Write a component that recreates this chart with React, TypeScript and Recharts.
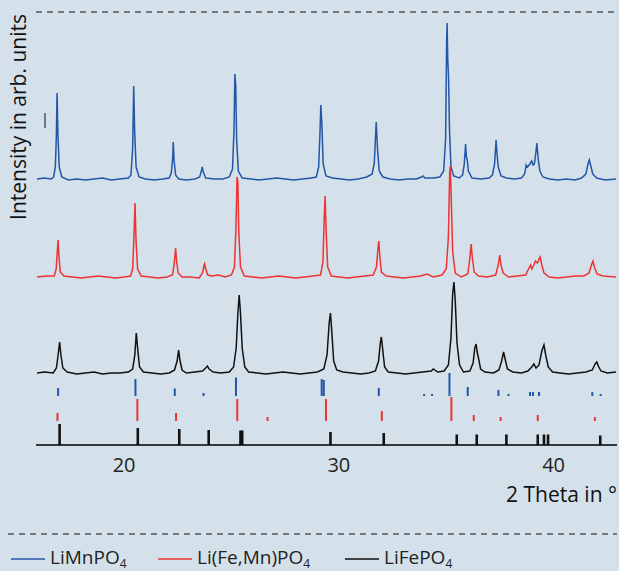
import React from 'react';
import { ComposedChart, Line, XAxis, YAxis, ReferenceLine } from 'recharts';

// measured patterns: [2 theta, intensity] (arb. units, each relative to its own baseline)
const mnPattern: [number, number][] = [
  [15.95, 0], [16.3, 1], [16.6, 0], [16.72, 2], [16.8, 12], [16.85, 45], [16.88, 86], [16.92, 45], [16.98, 12], [17.1, 2],
  [17.4, -1], [17.8, 0], [18.2, -1], [18.6, 0], [19.0, 1], [19.4, -1], [19.8, 0], [20.2, 1], [20.32, 4], [20.4, 30],
  [20.45, 93], [20.49, 50], [20.56, 12], [20.7, 2], [21.0, 0], [21.4, -1], [21.8, 0], [22.1, 1], [22.2, 6], [22.26, 20],
  [22.29, 37], [22.33, 18], [22.4, 4], [22.55, 0], [22.9, -1], [23.3, 0], [23.52, 2], [23.6, 8], [23.64, 12], [23.69, 7],
  [23.8, 1], [24.2, 0], [24.6, 0], [24.9, 2], [25.05, 10], [25.12, 50], [25.16, 105], [25.2, 93], [25.24, 40], [25.32, 8],
  [25.5, 1], [25.9, 0], [26.3, -1], [26.7, 0], [27.1, 1], [27.5, 0], [27.9, -1], [28.3, 0], [28.7, 1], [28.95, 2],
  [29.06, 12], [29.12, 45], [29.16, 74], [29.21, 55], [29.27, 15], [29.4, 3], [29.7, 1], [30.1, 0], [30.5, -1], [30.9, 0],
  [31.3, 2], [31.55, 5], [31.65, 16], [31.74, 57], [31.8, 30], [31.88, 8], [32.05, 2], [32.4, 0], [32.8, -1], [33.2, 0],
  [33.6, 0], [33.85, 2], [33.92, 3], [34.0, 1], [34.4, 1], [34.7, 2], [34.88, 8], [34.97, 40], [35.02, 140], [35.04, 156],
  [35.07, 120], [35.11, 100], [35.15, 50], [35.22, 12], [35.35, 3], [35.6, 1], [35.76, 4], [35.84, 15], [35.9, 35], [35.94, 22],
  [35.98, 19], [36.03, 8], [36.2, 1], [36.6, 0], [37.0, 1], [37.15, 4], [37.25, 15], [37.32, 39], [37.37, 24], [37.42, 12],
  [37.55, 3], [37.8, 1], [38.2, 0], [38.5, 1], [38.65, 5], [38.72, 14], [38.78, 12], [38.86, 14], [38.98, 18], [39.04, 14],
  [39.1, 15], [39.17, 26], [39.22, 36], [39.28, 20], [39.36, 8], [39.5, 2], [39.8, 0], [40.2, -1], [40.6, 0], [41.0, -1],
  [41.3, 1], [41.5, 5], [41.6, 15], [41.66, 19], [41.72, 14], [41.82, 5], [42.0, 1], [42.4, -1], [42.9, 0],
];

const mixPattern: [number, number][] = [
  [15.95, 0], [16.4, 1], [16.75, 1], [16.84, 8], [16.89, 25], [16.93, 37], [16.97, 20], [17.03, 5], [17.2, 1], [17.6, 0],
  [18.0, -1], [18.4, 0], [18.8, 1], [19.2, 0], [19.6, -1], [20.0, 0], [20.3, 1], [20.4, 8], [20.46, 40], [20.51, 74],
  [20.56, 35], [20.63, 8], [20.8, 1], [21.2, 0], [21.6, -1], [22.0, 0], [22.25, 2], [22.33, 12], [22.4, 29], [22.45, 15],
  [22.52, 4], [22.7, 0], [23.1, 0], [23.5, -1], [23.65, 4], [23.72, 11], [23.75, 13], [23.8, 8], [23.9, 2], [24.1, 1],
  [24.4, 2], [24.7, 0], [25.0, 2], [25.14, 10], [25.21, 50], [25.26, 100], [25.3, 95], [25.34, 45], [25.42, 10], [25.6, 1],
  [26.0, 0], [26.4, -1], [26.8, 0], [27.2, 1], [27.6, 0], [28.0, -1], [28.4, 0], [28.8, 1], [29.15, 2], [29.26, 15],
  [29.32, 60], [29.36, 81], [29.41, 45], [29.48, 10], [29.65, 1], [30.0, 0], [30.4, -1], [30.8, 0], [31.2, 1], [31.6, 2],
  [31.75, 10], [31.82, 28], [31.86, 36], [31.91, 20], [31.98, 5], [32.2, 1], [32.6, 0], [33.0, -1], [33.4, 0], [33.8, 1],
  [34.1, 3], [34.4, 0], [34.8, 2], [35.0, 8], [35.1, 40], [35.16, 105], [35.19, 111], [35.23, 80], [35.3, 25], [35.42, 4],
  [35.7, 0], [36.0, 3], [36.08, 15], [36.16, 33], [36.21, 20], [36.3, 5], [36.5, 1], [36.9, 0], [37.3, 2], [37.42, 12],
  [37.49, 22], [37.55, 12], [37.65, 4], [37.9, 0], [38.3, 1], [38.7, 2], [38.85, 9], [38.93, 12], [38.98, 8], [39.08, 12],
  [39.15, 16], [39.25, 14], [39.32, 18], [39.37, 20], [39.45, 12], [39.55, 4], [39.8, 0], [40.2, -1], [40.6, 0], [41.0, 1],
  [41.4, 1], [41.65, 4], [41.76, 12], [41.83, 16], [41.9, 10], [42.02, 3], [42.3, 1], [42.9, 0],
];

const fePattern: [number, number][] = [
  [15.95, 0], [16.3, 1], [16.7, 0], [16.85, 5], [16.93, 18], [17.0, 31], [17.06, 18], [17.15, 5], [17.35, 1], [17.8, -1],
  [18.2, 0], [18.6, 1], [19.0, -1], [19.4, 0], [19.8, 0], [20.2, 1], [20.4, 4], [20.5, 18], [20.57, 40], [20.63, 25],
  [20.72, 6], [20.9, 1], [21.3, 0], [21.7, -1], [22.1, 0], [22.35, 3], [22.47, 12], [22.54, 23], [22.6, 13], [22.7, 3],
  [22.9, 0], [23.3, 1], [23.65, 2], [23.8, 5], [23.88, 7], [23.96, 4], [24.15, 1], [24.5, 0], [24.9, 1], [25.1, 6],
  [25.22, 25], [25.3, 60], [25.36, 78], [25.42, 60], [25.5, 25], [25.62, 6], [25.8, 1], [26.2, 0], [26.6, -1], [27.0, 0],
  [27.4, 1], [27.8, 0], [28.2, -1], [28.6, 0], [29.0, 1], [29.3, 4], [29.45, 18], [29.55, 50], [29.61, 60], [29.67, 42],
  [29.76, 12], [29.9, 3], [30.2, 1], [30.6, 0], [31.0, -1], [31.4, 0], [31.7, 2], [31.85, 12], [31.93, 30], [31.98, 36],
  [32.04, 24], [32.13, 6], [32.3, 1], [32.7, 0], [33.1, -1], [33.5, 0], [33.9, 1], [34.3, 2], [34.4, 4], [34.6, 1],
  [34.9, 2], [35.1, 8], [35.22, 35], [35.3, 80], [35.36, 91], [35.42, 72], [35.5, 30], [35.62, 8], [35.8, 1], [36.1, 2],
  [36.25, 10], [36.33, 25], [36.39, 29], [36.44, 21], [36.5, 15], [36.6, 4], [36.8, 1], [37.2, 0], [37.45, 3], [37.58, 12],
  [37.67, 21], [37.74, 14], [37.85, 4], [38.1, 1], [38.5, 0], [38.8, 2], [38.98, 6], [39.08, 9], [39.18, 5], [39.32, 8],
  [39.45, 22], [39.55, 28], [39.63, 18], [39.75, 6], [39.95, 1], [40.3, 0], [40.7, -1], [41.1, 0], [41.5, 1], [41.8, 3],
  [41.93, 9], [42.01, 11], [42.08, 7], [42.2, 2], [42.5, 0], [42.9, 1],
];

// reference reflections: [2 theta, relative height]
const mnRefs: [number, number][] = [
  [16.93, 8], [20.53, 17], [22.36, 7.5], [23.7, 3], [25.21, 18.5], [29.2, 17], [29.3, 16], [31.86, 8],
  [33.97, 2], [34.34, 2], [35.15, 23], [36.0, 9], [37.43, 6], [37.9, 2], [38.9, 4], [39.04, 4], [39.32, 4],
  [41.8, 4], [42.19, 2],
];
const mixRefs: [number, number][] = [
  [16.9, 8], [20.62, 22], [22.42, 8], [25.27, 22], [26.68, 4], [29.4, 22], [32.0, 10], [35.24, 24],
  [36.28, 6], [37.53, 4], [39.26, 6], [41.92, 4],
];
const feRefs: [number, number][] = [
  [17.0, 21], [20.64, 17], [22.57, 16], [23.94, 15], [25.42, 14.5], [25.5, 14.5], [29.61, 13], [32.09, 12],
  [35.49, 10.5], [36.42, 10.5], [37.8, 10.5], [39.26, 10.5], [39.55, 10.5], [39.74, 10.5], [42.17, 9.5],
];

const xTicks = [20, 30, 40];
const scaleBar = { x: 16.32, from: 317, to: 332 };

const series = [
  { name: 'LiMnPO', color: '#2356a6', pattern: mnPattern, refs: mnRefs, offset: 266, refBase: 49 },
  { name: 'Li(Fe,Mn)PO', color: '#ee3333', pattern: mixPattern, refs: mixRefs, offset: 168, refBase: 24 },
  { name: 'LiFePO', color: '#111111', pattern: fePattern, refs: feRefs, offset: 72, refBase: 0 },
];
const legendLefts = [11, 158, 345];

const FONT = '"Open Sans", "Noto Sans", sans-serif';

const Tick = (props: any) => {
  const { x, y, payload } = props;
  return (
    <text x={x} y={y + 19} textAnchor="middle" fontSize={20} fontFamily={FONT} fill="#222">
      {payload.value}
    </text>
  );
};

export default function App() {
  return (
    <div style={{ position: 'absolute', left: 0, top: 0, width: 619, height: 571, background: '#d5e1ea', fontFamily: FONT, overflow: 'hidden' }}>
      <ComposedChart width={619} height={500} margin={{ top: 12, right: 2, bottom: 0, left: 36 }}>
        <XAxis
          dataKey="x"
          type="number"
          domain={[15.9, 42.95]}
          allowDataOverflow
          ticks={xTicks}
          tickLine={false}
          axisLine={{ stroke: '#000', strokeWidth: 1.5 }}
          tick={<Tick />}
          height={55}
        />
        <YAxis hide type="number" domain={[0, 433]} allowDataOverflow />
        <ReferenceLine y={433} stroke="#555" strokeWidth={1.5} strokeDasharray="6 5" />
        <ReferenceLine
          segment={[{ x: scaleBar.x, y: scaleBar.from }, { x: scaleBar.x, y: scaleBar.to }]}
          stroke="#555"
          strokeWidth={1.5}
        />
        {series.map((s) =>
          s.refs.map(([pos, h], i) => (
            <ReferenceLine
              key={`${s.name}-ref-${i}`}
              segment={[{ x: pos, y: s.refBase }, { x: pos, y: s.refBase + h }]}
              stroke={s.color}
              strokeWidth={s.refBase === 0 ? 2.6 : 2}
            />
          ))
        )}
        {series.map((s) => (
          <Line
            key={s.name}
            data={s.pattern.map(([x, v]) => ({ x, y: v + s.offset }))}
            dataKey="y"
            type="linear"
            stroke={s.color}
            strokeWidth={1.5}
            dot={false}
            activeDot={false}
            isAnimationActive={false}
          />
        ))}
      </ComposedChart>

      {/* y label */}
      <div
        style={{
          position: 'absolute', left: 18 - 130, top: 117 - 14, width: 260, height: 28, lineHeight: '28px',
          textAlign: 'center', fontSize: 21, color: '#111', transform: 'rotate(-90deg)', whiteSpace: 'nowrap',
        }}
      >
        Intensity in arb. units
      </div>

      {/* x label */}
      <div style={{ position: 'absolute', right: 2, top: 480, fontSize: 21, color: '#111', lineHeight: '28px' }}>
        2 Theta in °
      </div>

      <svg style={{ position: 'absolute', left: 0, top: 0 }} width={619} height={571}>
        <line x1={8} x2={617} y1={534} y2={534} stroke="#555" strokeWidth={1.5} strokeDasharray="6 5" />
      </svg>

      {/* legend */}
      {series.map((s, i) => (
        <div
          key={s.name}
          style={{ position: 'absolute', left: legendLefts[i], top: 545, height: 24, lineHeight: '24px', fontSize: 19, color: '#222', whiteSpace: 'nowrap' }}
        >
          <svg width={34} height={10} style={{ marginRight: 5, verticalAlign: 'middle' }}>
            <line x1={0} x2={34} y1={5} y2={5} stroke={s.color} strokeWidth={1.6} />
          </svg>
          {s.name}
          <span style={{ position: 'relative', top: 4, fontSize: 12, lineHeight: '12px' }}>4</span>
        </div>
      ))}
    </div>
  );
}
